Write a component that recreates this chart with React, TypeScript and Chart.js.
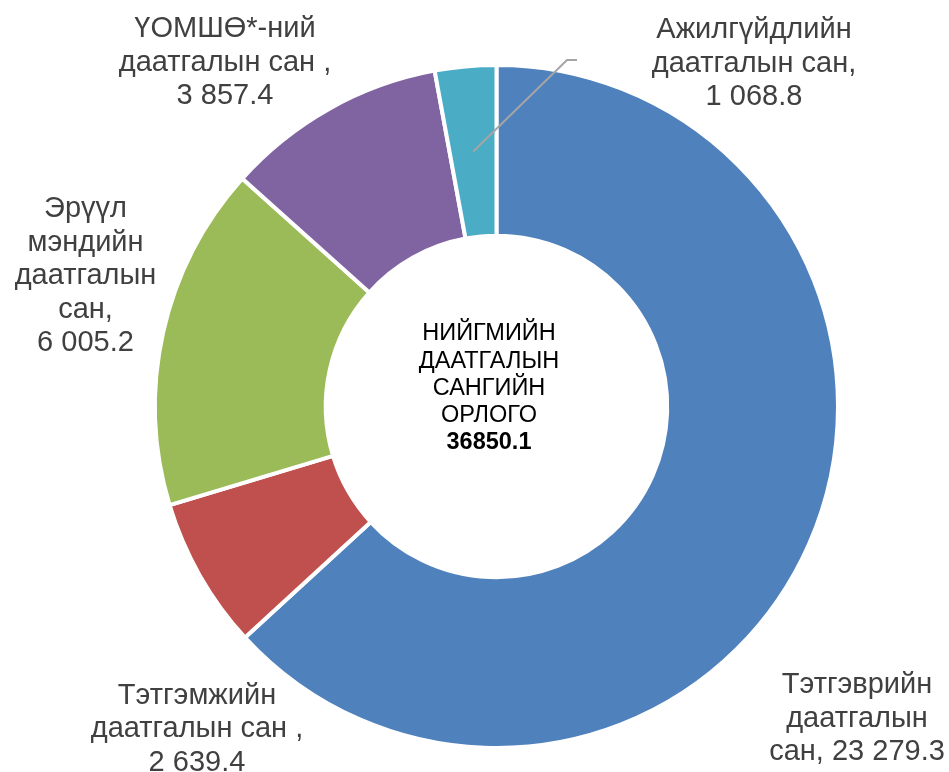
import React, { useEffect, useRef } from "react";
import { Chart, registerables } from "chart.js";

Chart.register(...registerables);

// ---- data ----
const categories = [
  "Тэтгэврийн даатгалын сан",
  "Тэтгэмжийн даатгалын сан",
  "Эрүүл мэндийн даатгалын сан",
  "ҮОМШӨ*-ний даатгалын сан",
  "Ажилгүйдлийн даатгалын сан",
];
const values = [23279.3, 2639.4, 6005.2, 3857.4, 1068.8];
const labelLines = [
  ["Тэтгэврийн", "даатгалын", "сан, {v}"],
  ["Тэтгэмжийн", "даатгалын сан ,", "{v}"],
  ["Эрүүл", "мэндийн", "даатгалын", "сан,", "{v}"],
  ["ҮОМШӨ*-ний", "даатгалын сан ,", "{v}"],
  ["Ажилгүйдлийн", "даатгалын сан,", "{v}"],
];
const centerLines = ["НИЙГМИЙН", "ДААТГАЛЫН", "САНГИЙН", "ОРЛОГО"];

// ---- styles / layout ----
const colors = ["#4F81BD", "#C0504D", "#9BBB59", "#8064A2", "#4BACC6"];
const FONT = '"Liberation Sans", Arial, sans-serif';
// label anchor (center x, first line cap-center y) relative to chart center
const labelPos = [
  { dx: 360.5, dy: 276.5 },
  { dx: -299.5, dy: 287 },
  { dx: -411, dy: -199.5 },
  { dx: -271.5, dy: -379.5 },
  { dx: 257.5, dy: -378.5 },
];
// leader lines: index -> end point relative to center, plus horizontal tail
const leaders: Record<number, { dx: number; dy: number; tail: number }> = {
  4: { dx: 70.5, dy: -346.5, tail: 10 },
};

function fmt(n: number): string {
  const [i, d] = n.toFixed(1).split(".");
  return i.replace(/\B(?=(\d{3})+(?!\d))/g, " ") + "." + d;
}

const labelPlugin = {
  id: "customLabels",
  afterDraw(chart: any) {
    const meta = chart.getDatasetMeta(0);
    const arc0 = meta.data[0];
    const cx = arc0.x;
    const cy = arc0.y;
    const ctx = chart.ctx;
    ctx.save();

    // leader lines
    Object.keys(leaders).forEach((k) => {
      const idx = Number(k);
      const L = leaders[idx];
      const p = meta.data[idx].tooltipPosition();
      ctx.beginPath();
      ctx.strokeStyle = "#A5A5A5";
      ctx.lineWidth = 2;
      ctx.moveTo(p.x, p.y);
      ctx.lineTo(cx + L.dx, cy + L.dy);
      ctx.lineTo(cx + L.dx + L.tail, cy + L.dy);
      ctx.stroke();
    });

    // outside labels
    const size = 29;
    ctx.font = `${size}px ${FONT}`;
    ctx.fillStyle = "#404040";
    ctx.textAlign = "center";
    ctx.textBaseline = "alphabetic";
    const lh = 33.5;
    labelLines.forEach((lines, i) => {
      const pos = labelPos[i];
      lines.forEach((ln, j) => {
        const t = ln.replace("{v}", fmt(values[i]));
        ctx.fillText(t, cx + pos.dx, cy + pos.dy + j * lh + size * 0.358);
      });
    });

    // center text
    const cs = 23.5;
    const clh = 27.25;
    const total = values.reduce((a, b) => a + b, 0);
    ctx.fillStyle = "#000000";
    const ccx = cx - 7.5;
    const firstY = cy - 74.5;
    centerLines.forEach((ln, j) => {
      ctx.font = `${cs}px ${FONT}`;
      ctx.fillText(ln, ccx, firstY + j * clh + cs * 0.358);
    });
    ctx.font = `bold ${cs}px ${FONT}`;
    ctx.fillText(total.toFixed(1), ccx, firstY + centerLines.length * clh + cs * 0.358);

    ctx.restore();
  },
};

export default function App() {
  const ref = useRef<HTMLCanvasElement>(null);
  useEffect(() => {
    if (!ref.current) return;
    const chart = new Chart(ref.current, {
      type: "doughnut",
      data: {
        labels: categories,
        datasets: [
          {
            data: values,
            backgroundColor: colors,
            borderColor: "#FFFFFF",
            borderWidth: 4,
            hoverBorderWidth: 4,
            hoverOffset: 0,
            offset: 0,
          },
        ],
      },
      options: {
        responsive: false,
        animation: false,
        devicePixelRatio: 1,
        cutout: "50%",
        layout: { padding: { left: 153, top: 63, right: 109, bottom: 22 } },
        plugins: {
          legend: { display: false },
          tooltip: { enabled: false },
        },
        events: [],
      },
      plugins: [labelPlugin],
    });
    return () => chart.destroy();
  }, []);
  return (
    <div style={{ position: "absolute", left: 0, top: 0, width: 949, height: 772, background: "#fff" }}>
      <canvas ref={ref} width={949} height={772} style={{ display: "block" }} />
    </div>
  );
}
